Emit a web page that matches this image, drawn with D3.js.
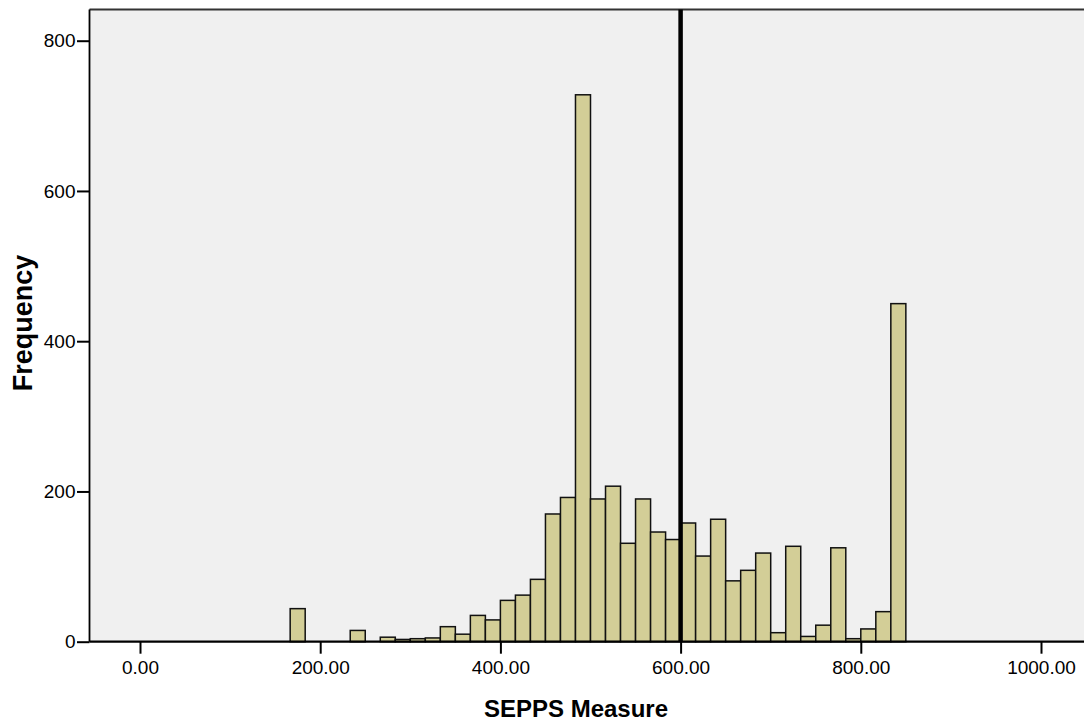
<!doctype html>
<html lang="en">
<head>
<meta charset="utf-8" />
<title>SEPPS Measure histogram</title>
<script src="https://d3js.org/d3.v7.min.js"></script>
<style>
  body { margin: 0; background: #ffffff; }
  svg { display: block; font-family: "Liberation Sans", Arial, sans-serif; }
</style>
</head>
<body>
<svg></svg>
<script>
// lower edge of each bin (width 16.67)
const binStarts = [166.67, 183.33, 200.00, 216.67, 233.33, 250.00, 266.67, 283.33, 300.00, 316.67,
                   333.33, 350.00, 366.67, 383.33, 400.00, 416.67, 433.33, 450.00, 466.67, 483.33,
                   500.00, 516.67, 533.33, 550.00, 566.67, 583.33, 600.00, 616.67, 633.33, 650.00,
                   666.67, 683.33, 700.00, 716.67, 733.33, 750.00, 766.67, 783.33, 800.00, 816.67,
                   833.33];
const binWidth = 16.67;
const frequencies = [44, 0, 0, 0, 15, 0, 6, 3, 4, 5,
                     20, 10, 35, 29, 55, 62, 83, 170, 192, 728,
                     190, 207, 131, 190, 146, 136, 158, 114, 163, 81,
                     95, 118, 12, 127, 7, 22, 125, 4, 17, 40,
                     450];
const refLine = 600;
const xTicks = [0, 200, 400, 600, 800, 1000];
const yTicks = [0, 200, 400, 600, 800];

let width = 1084,
    height = 723;

let svg = d3.select("svg")
    .attr("width", width)
    .attr("height", height);

let x = d3.scaleLinear().domain([0, 1000]).range([140, 1041]);
let y = d3.scaleLinear().domain([0, 800]).range([641.7, 40.7]);

let plotLeft = 89.5, plotTop = 9.5, plotRight = 1090, plotBottom = y(0);

// plot background
svg.append("rect")
    .attr("x", plotLeft)
    .attr("y", plotTop)
    .attr("width", plotRight - plotLeft)
    .attr("height", plotBottom - plotTop)
    .attr("fill", "#f0f0f0")
    .attr("stroke", "none");

// top border
svg.append("line")
    .attr("x1", plotLeft).attr("x2", plotRight)
    .attr("y1", plotTop).attr("y2", plotTop)
    .attr("stroke", "#333").attr("stroke-width", 1.8);

// bars
let bins = binStarts.map((b, i) => ({ x0: b, x1: b + binWidth, n: frequencies[i] }))
    .filter(d => d.n > 0);

svg.append("g").selectAll("rect")
    .data(bins)
    .enter()
    .append("rect")
        .attr("x", d => x(d.x0))
        .attr("y", d => y(d.n))
        .attr("width", d => x(d.x1) - x(d.x0))
        .attr("height", d => y(0) - y(d.n))
        .attr("fill", "#d3ce97")
        .attr("stroke", "#111")
        .attr("stroke-width", 1.5);

// reference line
svg.append("line")
    .attr("x1", x(refLine)).attr("x2", x(refLine))
    .attr("y1", plotTop).attr("y2", plotBottom)
    .attr("stroke", "#000").attr("stroke-width", 4.5);

// x axis
let xAxis = d3.axisBottom(x)
    .tickValues(xTicks)
    .tickSize(12)
    .tickSizeOuter(0)
    .tickFormat(d3.format(".2f"));

let gx = svg.append("g")
    .attr("transform", `translate(0,${plotBottom})`)
    .call(xAxis);
gx.select(".domain").remove();
gx.selectAll(".tick line").attr("stroke", "#000").attr("stroke-width", 2);
gx.selectAll(".tick text")
    .attr("y", 32)
    .attr("dy", 0)
    .attr("fill", "#000")
    .style("font-size", "19px");

svg.append("line")
    .attr("x1", plotLeft).attr("x2", plotRight)
    .attr("y1", plotBottom).attr("y2", plotBottom)
    .attr("stroke", "#000").attr("stroke-width", 2.2);

// y axis
let yAxis = d3.axisLeft(y)
    .tickValues(yTicks)
    .tickSize(12.5)
    .tickSizeOuter(0)
    .tickPadding(1.5);

let gy = svg.append("g")
    .attr("transform", `translate(${plotLeft},0)`)
    .call(yAxis);
gy.select(".domain").remove();
gy.selectAll(".tick line").attr("stroke", "#000").attr("stroke-width", 2);
gy.selectAll(".tick text")
    .attr("fill", "#000")
    .style("font-size", "19px");

svg.append("line")
    .attr("x1", plotLeft).attr("x2", plotLeft)
    .attr("y1", plotTop).attr("y2", plotBottom)
    .attr("stroke", "#000").attr("stroke-width", 1.8);

// axis titles
svg.append("text")
    .attr("x", 576)
    .attr("y", 716.5)
    .attr("text-anchor", "middle")
    .style("font-size", "24px")
    .style("font-weight", "bold")
    .text("SEPPS Measure");

svg.append("text")
    .attr("transform", "translate(31.5,323) rotate(-90)")
    .attr("text-anchor", "middle")
    .style("font-size", "27px")
    .style("font-weight", "bold")
    .text("Frequency");
</script>
</body>
</html>
